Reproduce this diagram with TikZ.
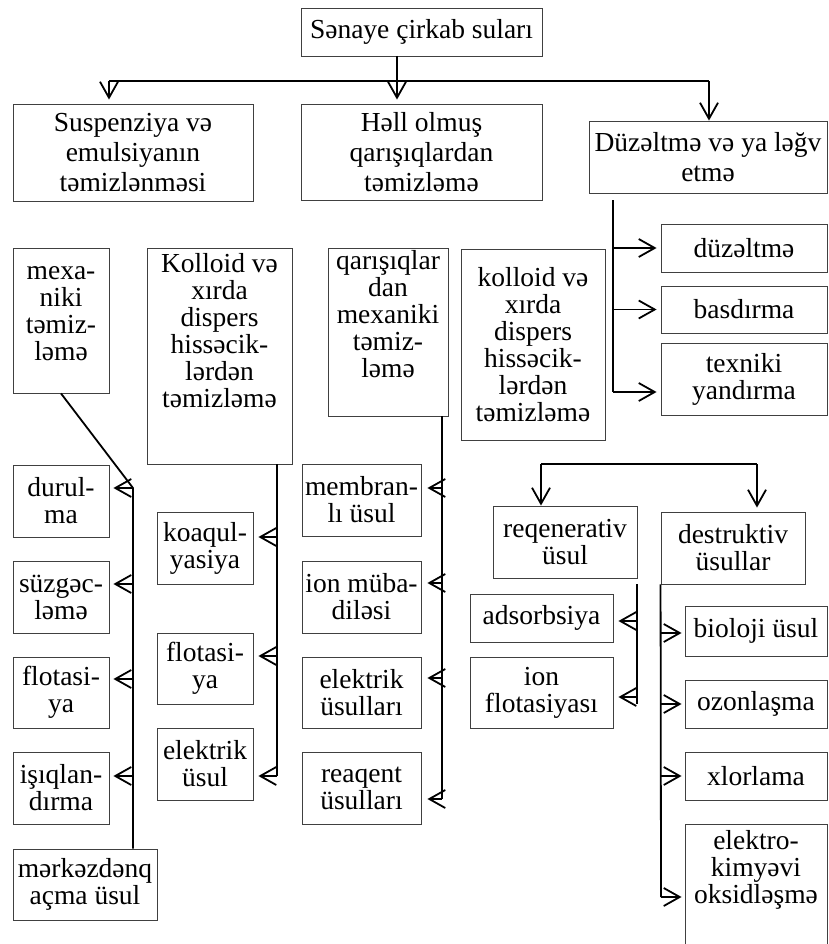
\documentclass[tikz,border=0pt]{standalone}
\usepackage{fontspec}
\setmainfont{Liberation Serif}
\usetikzlibrary{arrows.meta}
\definecolor{boxgray}{gray}{0.25}
\begin{document}
\begin{tikzpicture}[x=1pt,y=-1pt,
  box/.style={draw=boxgray, line width=0.9pt, align=center, inner sep=0pt, font=\fontsize{27.5}{27}\selectfont},
  bigbox/.style={box, font=\fontsize{27.5}{30}\selectfont},
  txt/.style={align=center, inner sep=0pt, font=\fontsize{27.5}{27}\selectfont},
  conn/.style={line width=1.8pt, black},
  arr/.style={-{Straight Barb[length=16pt,width=18pt]}}]
\useasboundingbox (0,0) rectangle (828,944);

% ---- level 0 / 1
\node[bigbox, minimum width=241pt, minimum height=48pt] (top) at (421.5,32) {Sənaye çirkab suları};
\node[bigbox, minimum width=240pt, minimum height=97pt] (susp) at (133,152.5) {Suspenziya və\\emulsiyanın\\təmizlənməsi};
\node[bigbox, minimum width=241pt, minimum height=96pt] (hell) at (421.5,152) {Həll olmuş\\qarışıqlardan\\təmizləmə};
\node[bigbox, minimum width=238pt, minimum height=72pt] (duz) at (708,157) {Düzəltmə və ya ləğv\\etmə};

% ---- level 2
\node[box, minimum width=96pt, minimum height=145pt] (mexa) at (61,320.5) {};
\node[txt] (mexat) at (61,314) {mexa-\\niki\\təmiz-\\ləmə};
\node[box, minimum width=145pt, minimum height=216pt] (kol1) at (219.5,356) {};
\node[txt] (kol1t) at (219.5,331) {Kolloid və\\xırda\\dispers\\hissəcik-\\lərdən\\təmizləmə};
\node[box, minimum width=120pt, minimum height=168pt] (qar) at (388,332) {};
\node[txt] (qart) at (388,314) {qarışıqlar\\dan\\mexaniki\\təmiz-\\ləmə};
\node[box, minimum width=144pt, minimum height=191pt] (kol2) at (533,344.5) {kolloid və\\xırda\\dispers\\hissəcik-\\lərdən\\təmizləmə};

\node[box, minimum width=166pt, minimum height=48pt] (duzeltme) at (744,248) {düzəltmə};
\node[box, minimum width=166pt, minimum height=47pt] (basdirma) at (744,309.5) {basdırma};
\node[box, minimum width=166pt, minimum height=72pt] (texniki) at (744,379) {texniki\\yandırma};

% ---- column 1
\node[box, minimum width=96pt, minimum height=72pt] (durul) at (61,501) {durul-\\ma};
\node[box, minimum width=96pt, minimum height=72pt] (suzgec) at (61,597) {süzgəc-\\ləmə};
\node[box, minimum width=96pt, minimum height=71pt] (flot1) at (61,692.5) {flotasi-\\ya};
\node[box, minimum width=96pt, minimum height=72pt] (isiq) at (61,788) {işıqlan-\\dırma};
\node[box, minimum width=144pt, minimum height=71pt] (merk) at (85,884.5) {mərkəzdənq\\açma üsul};

% ---- column 2
\node[box, minimum width=96pt, minimum height=72pt] (koaq) at (205,548) {koaqul-\\yasiya};
\node[box, minimum width=96pt, minimum height=71pt] (flot2) at (205,668.5) {flotasi-\\ya};
\node[box, minimum width=96pt, minimum height=72pt] (elek1) at (205,764) {elektrik\\üsul};

% ---- column 3
\node[box, minimum width=119pt, minimum height=72pt] (memb) at (361.5,500) {membran-\\lı üsul};
\node[box, minimum width=119pt, minimum height=72pt] (ionm) at (361.5,597) {ion müba-\\diləsi};
\node[box, minimum width=119pt, minimum height=71pt] (elek2) at (361.5,692.5) {elektrik\\üsulları};
\node[box, minimum width=119pt, minimum height=72pt] (reaq) at (361.5,788) {reaqent\\üsulları};

% ---- column 4
\node[box, minimum width=144pt, minimum height=72pt] (reqen) at (565,542) {reqenerativ\\üsul};
\node[box, minimum width=144pt, minimum height=72pt] (destr) at (733,548) {destruktiv\\üsullar};
\node[box, minimum width=143pt, minimum height=48pt] (adsor) at (541.5,618) {adsorbsiya};
\node[box, minimum width=143pt, minimum height=71pt] (ionf) at (541.5,692.5) {ion\\flotasiyası};
\node[box, minimum width=142pt, minimum height=50pt] (biol) at (756,631) {bioloji üsul};
\node[box, minimum width=142pt, minimum height=48pt] (ozon) at (756,704) {ozonlaşma};
\node[box, minimum width=142pt, minimum height=48pt] (xlor) at (756,776) {xlorlama};
\node[box, minimum width=142pt, minimum height=124pt] (elektro) at (756,886) {};
\node[txt] (elektrot) at (756,870) {elektro-\\kimyəvi\\oksidləşmə};

% ---- connectors: top
\coordinate (tA) at (397,56);
\coordinate (hL) at (109,81);
\coordinate (hM) at (397,81);
\coordinate (hR) at (709,81);
\draw[conn] (tA) -- (hM);
\draw[conn] (hL) -- (hR);
\draw[conn,arr,shorten >=4pt] (hL) -- (hL |- susp.north);
\draw[conn,arr,shorten >=4pt] (hM) -- (hM |- hell.north);
\draw[conn,arr] (hR) -- (hR |- duz.north);

% ---- Düzəltmə branch
\coordinate (dz0) at (613,200);
\coordinate (dz1) at (613,392);
\draw[conn] (dz0) -- (dz1);
\draw[conn,arr,shorten >=4pt] (dz0 |- duzeltme.west) -- (duzeltme.west);
\draw[conn,arr,shorten >=4pt] (dz0 |- basdirma.west) -- (basdirma.west);
\draw[conn,arr,shorten >=4pt] (dz1) -- (dz1 -| texniki.west);

% ---- column 1 connectors
\coordinate (c1a) at (133,488);
\coordinate (c1b) at (133,584);
\coordinate (c1c) at (133,679);
\coordinate (c1d) at (133,776);
\draw[conn] (mexa.south) -- (c1a) -- (c1a |- merk.north);
\draw[conn,arr,shorten >=4pt] (c1a) -- (c1a -| durul.east);
\draw[conn,arr,shorten >=4pt] (c1b) -- (c1b -| suzgec.east);
\draw[conn,arr,shorten >=4pt] (c1c) -- (c1c -| flot1.east);
\draw[conn,arr,shorten >=4pt] (c1d) -- (c1d -| isiq.east);

% ---- column 2 connectors
\coordinate (c2o) at (277,464);
\coordinate (c2a) at (277,537);
\coordinate (c2b) at (277,656);
\coordinate (c2c) at (277,776);
\draw[conn] (c2o) -- (c2c);
\draw[conn,arr,shorten >=5pt] (c2a) -- (c2a -| koaq.east);
\draw[conn,arr,shorten >=5pt] (c2b) -- (c2b -| flot2.east);
\draw[conn,arr,shorten >=5pt] (c2c) -- (c2c -| elek1.east);

% ---- column 3 connectors
\coordinate (c3o) at (442,416);
\coordinate (c3a) at (442,488);
\coordinate (c3b) at (442,583);
\coordinate (c3c) at (442,678);
\coordinate (c3d) at (442,799);
\draw[conn] (c3o) -- (c3d);
\draw[conn,arr,shorten >=6pt] (c3a) -- (c3a -| memb.east);
\draw[conn,arr,shorten >=6pt] (c3b) -- (c3b -| ionm.east);
\draw[conn,arr,shorten >=6pt] (c3c) -- (c3c -| elek2.east);
\draw[conn,arr,shorten >=6pt] (c3d) -- (c3d -| reaq.east);

% ---- fork to reqenerativ / destruktiv
\coordinate (fL) at (541,464);
\coordinate (fR) at (757,464);
\draw[conn] (fL) -- (fR);
\draw[conn,arr] (fL) -- (fL |- reqen.north);
\draw[conn,arr,shorten >=4pt] (fR) -- (fR |- destr.north);

% ---- reqenerativ children
\coordinate (rgo) at (637,584);
\coordinate (rga) at (637,621);
\coordinate (rgb) at (637,697);
\coordinate (rge) at (637,704);
\draw[conn] (rgo) -- (rge);
\draw[conn,arr,shorten >=5pt] (rga) -- (rga -| adsor.east);
\draw[conn,arr,shorten >=5pt] (rgb) -- (rgb -| ionf.east);

% ---- destruktiv children
\coordinate (dsa) at (661,633);
\coordinate (dsb) at (661,704);
\coordinate (dsc) at (661,776);
\coordinate (dsd) at (661,897);
\draw[conn] (destr.south west) -- (dsd);
\draw[conn,arr,shorten >=3pt] (dsa) -- (dsa -| biol.west);
\draw[conn,arr,shorten >=3pt] (dsb) -- (dsb -| ozon.west);
\draw[conn,arr,shorten >=3pt] (dsc) -- (dsc -| xlor.west);
\draw[conn,arr,shorten >=3pt] (dsd) -- (dsd -| elektro.west);
\end{tikzpicture}
\end{document}
